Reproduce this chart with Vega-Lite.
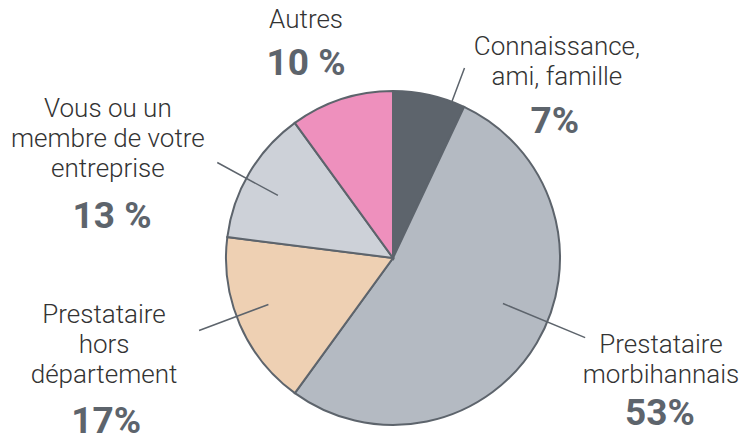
{
  "$schema": "https://vega.github.io/schema/vega-lite/v6.json",
  "width": 700,
  "height": 352,
  "autosize": {"type": "none"},
  "padding": {"left": 43, "top": 82, "right": 0, "bottom": 0},
  "background": "white",
  "config": {"view": {"stroke": null}, "text": {"font": "Roboto"}},
  "data": {
    "values": [
      {"order": 1, "label": "Connaissance, ami, famille", "name": "Connaissance,\nami, famille", "pct": 7, "pctLabel": "7%"},
      {"order": 2, "label": "Prestataire morbihannais", "name": "Prestataire\nmorbihannais", "pct": 53, "pctLabel": "53%"},
      {"order": 3, "label": "Prestataire hors département", "name": "Prestataire\nhors\ndépartement", "pct": 17, "pctLabel": "17%"},
      {"order": 4, "label": "Vous ou un membre de votre entreprise", "name": "Vous ou un\nmembre de votre\nentreprise", "pct": 13, "pctLabel": "13 %"},
      {"order": 5, "label": "Autres", "name": "Autres", "pct": 10, "pctLabel": "10 %"}
    ]
  },
  "transform": [
    {"stack": "pct", "groupby": [], "sort": [{"field": "order", "order": "ascending"}], "as": ["p0", "p1"]}
  ],
  "layer": [
    {
      "mark": {"type": "arc", "radius": 167, "stroke": "#5d646c", "strokeWidth": 2},
      "encoding": {
        "theta": {"field": "p0", "type": "quantitative", "scale": {"domain": [0, 100], "range": [0, 6.283185307179586]}},
        "theta2": {"field": "p1"},
        "color": {
          "field": "label", "type": "nominal", "legend": null,
          "scale": {
            "domain": ["Connaissance, ami, famille", "Prestataire morbihannais", "Prestataire hors département", "Vous ou un membre de votre entreprise", "Autres"],
            "range": ["#5d646c", "#b4bac2", "#eed0b3", "#cdd1d8", "#ee90bd"]
          }
        }
      }
    },
    {
      "transform": [{"filter": "datum.order === 1"}],
      "mark": {"type": "arc", "radius": 203, "radius2": 166, "thetaOffset": 0.36, "theta2Offset": 0.36, "stroke": "#5d646c", "strokeWidth": 1.5, "fillOpacity": 0},
      "encoding": {"theta": {"field": "p0", "type": "quantitative"}, "theta2": {"field": "p0"}}
    },
    {
      "transform": [{"filter": "datum.order === 2"}],
      "mark": {"type": "arc", "radius": 208, "radius2": 119, "thetaOffset": 1.5237, "theta2Offset": 1.5237, "stroke": "#5d646c", "strokeWidth": 1.5, "fillOpacity": 0},
      "encoding": {"theta": {"field": "p0", "type": "quantitative"}, "theta2": {"field": "p0"}}
    },
    {
      "transform": [{"filter": "datum.order === 3"}],
      "mark": {"type": "arc", "radius": 207, "radius2": 133, "thetaOffset": 0.585, "theta2Offset": 0.585, "stroke": "#5d646c", "strokeWidth": 1.5, "fillOpacity": 0},
      "encoding": {"theta": {"field": "p0", "type": "quantitative"}, "theta2": {"field": "p0"}}
    },
    {
      "transform": [{"filter": "datum.order === 4"}],
      "mark": {"type": "arc", "radius": 200, "radius2": 131, "thetaOffset": 0.372, "theta2Offset": 0.372, "stroke": "#5d646c", "strokeWidth": 1.5, "fillOpacity": 0},
      "encoding": {"theta": {"field": "p0", "type": "quantitative"}, "theta2": {"field": "p0"}}
    },
    {
      "transform": [{"filter": "datum.order === 1"}],
      "mark": {"type": "text", "radius": 261.0, "thetaOffset": 0.679, "align": "center", "baseline": "alphabetic", "fontSize": 26, "fontWeight": 300, "lineBreak": "\n", "lineHeight": 30, "color": "#333333"},
      "encoding": {"theta": {"field": "p0", "type": "quantitative"}, "text": {"field": "name"}}
    },
    {
      "transform": [{"filter": "datum.order === 1"}],
      "mark": {"type": "text", "radius": 204.6, "thetaOffset": 0.913, "align": "center", "baseline": "alphabetic", "fontSize": 37, "fontWeight": "bold", "color": "#5d646c"},
      "encoding": {"theta": {"field": "p0", "type": "quantitative"}, "text": {"field": "pctLabel"}}
    },
    {
      "transform": [{"filter": "datum.order === 2"}],
      "mark": {"type": "text", "radius": 284.3, "thetaOffset": 1.471, "align": "center", "baseline": "alphabetic", "fontSize": 26, "fontWeight": 300, "lineBreak": "\n", "lineHeight": 30, "color": "#333333"},
      "encoding": {"theta": {"field": "p0", "type": "quantitative"}, "text": {"field": "name"}}
    },
    {
      "transform": [{"filter": "datum.order === 2"}],
      "mark": {"type": "text", "radius": 314.9, "thetaOffset": 1.690, "align": "center", "baseline": "alphabetic", "fontSize": 37, "fontWeight": "bold", "color": "#5d646c"},
      "encoding": {"theta": {"field": "p0", "type": "quantitative"}, "text": {"field": "pctLabel"}}
    },
    {
      "transform": [{"filter": "datum.order === 3"}],
      "mark": {"type": "text", "radius": 296.2, "thetaOffset": 0.721, "align": "center", "baseline": "alphabetic", "fontSize": 26, "fontWeight": 300, "lineBreak": "\n", "lineHeight": 30, "color": "#333333"},
      "encoding": {"theta": {"field": "p0", "type": "quantitative"}, "text": {"field": "name"}}
    },
    {
      "transform": [{"filter": "datum.order === 3"}],
      "mark": {"type": "text", "radius": 336.1, "thetaOffset": 0.394, "align": "center", "baseline": "alphabetic", "fontSize": 37, "fontWeight": "bold", "color": "#5d646c"},
      "encoding": {"theta": {"field": "p0", "type": "quantitative"}, "text": {"field": "pctLabel"}}
    },
    {
      "transform": [{"filter": "datum.order === 4"}],
      "mark": {"type": "text", "radius": 318.0, "thetaOffset": 0.333, "align": "center", "baseline": "alphabetic", "fontSize": 26, "fontWeight": 300, "lineBreak": "\n", "lineHeight": 30, "color": "#333333"},
      "encoding": {"theta": {"field": "p0", "type": "quantitative"}, "text": {"field": "name"}}
    },
    {
      "transform": [{"filter": "datum.order === 4"}],
      "mark": {"type": "text", "radius": 282.6, "thetaOffset": -0.019, "align": "center", "baseline": "alphabetic", "fontSize": 37, "fontWeight": "bold", "color": "#5d646c"},
      "encoding": {"theta": {"field": "p0", "type": "quantitative"}, "text": {"field": "pctLabel"}}
    },
    {
      "transform": [{"filter": "datum.order === 5"}],
      "mark": {"type": "text", "radius": 245.9, "thetaOffset": 0.267, "align": "center", "baseline": "alphabetic", "fontSize": 26, "fontWeight": 300, "lineBreak": "\n", "lineHeight": 30, "color": "#333333"},
      "encoding": {"theta": {"field": "p0", "type": "quantitative"}, "text": {"field": "name"}}
    },
    {
      "transform": [{"filter": "datum.order === 5"}],
      "mark": {"type": "text", "radius": 202.6, "thetaOffset": 0.185, "align": "center", "baseline": "alphabetic", "fontSize": 37, "fontWeight": "bold", "color": "#5d646c"},
      "encoding": {"theta": {"field": "p0", "type": "quantitative"}, "text": {"field": "pctLabel"}}
    }
  ]
}
